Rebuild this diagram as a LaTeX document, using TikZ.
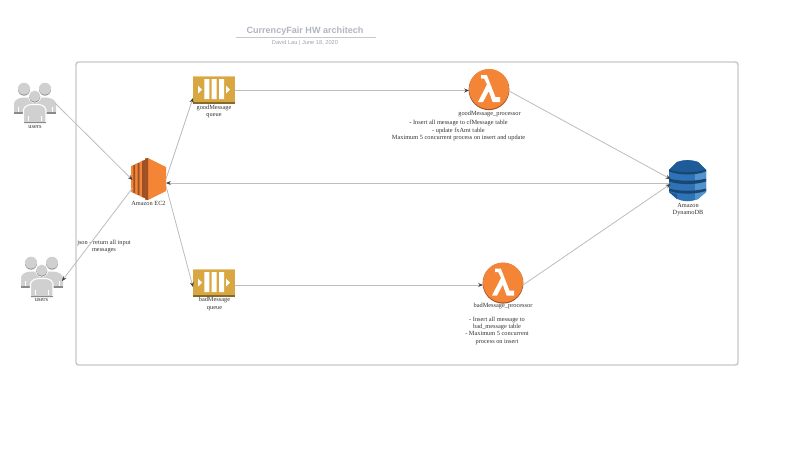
\documentclass[tikz,border=0pt]{standalone}
\usepackage{fontspec}
\setmainfont{Liberation Serif}
\newfontfamily\hdfont{Liberation Sans}
\usetikzlibrary{arrows.meta}
\definecolor{linegray}{HTML}{BDBDBD}
\definecolor{boxgray}{HTML}{C9C9C9}
\definecolor{titlegray}{HTML}{B2B6C0}
\definecolor{ugray}{HTML}{D0D0D0}
\definecolor{ugraydk}{HTML}{8A8A8A}
\definecolor{ecor}{HTML}{F58536}
\definecolor{ecdk}{HTML}{9D5025}
\definecolor{qgold}{HTML}{D9A741}
\definecolor{qdk}{HTML}{876929}
\definecolor{qlt}{HTML}{E8CB8C}
\definecolor{dbm}{HTML}{2E73B8}
\definecolor{dbl}{HTML}{5294CF}
\definecolor{dbk}{HTML}{205B99}
\definecolor{dbd}{HTML}{1A476F}
\definecolor{txt}{HTML}{333333}
\tikzset{
 x=0.75pt,y=-0.75pt,
 conn/.style={draw=linegray,line width=0.6pt,-{Stealth[length=3.6pt,width=3pt,color=black!75]}},
 lbl/.style={font=\fontsize{4.75pt}{5.4pt}\selectfont,text=txt,align=center,inner sep=0pt},
}
\newcommand{\personhead}[3]{%
  \fill[ugraydk] (#1,#2+0.6) circle (#3);
  \fill[ugray] (#1,#2-0.3) circle (#3);}
\newcommand{\usersicon}[2]{%
 \begin{scope}[shift={(#1,#2)}]
  \personhead{24}{89}{6}
  \personhead{45}{89}{6}
  \fill[ugray] (14,112) -- (14,104) .. controls (14,100) and (19,97.5) .. (24,97.5) -- (45,97.5) .. controls (51,97.5) and (56,100) .. (56,104) -- (56,112) -- cycle;
  \fill[ugraydk] (14,112) rectangle (56,113.5);
  \fill[white] (34.7,96.5) circle (6.5);
  \personhead{34.7}{96.5}{5.6}
  \fill[ugray,draw=white,line width=0.8pt] (23.5,124) -- (23.5,110) .. controls (24,106) and (29,104.5) .. (32,104.5) -- (37.5,104.5) .. controls (41,104.5) and (45.5,106) .. (46,110) -- (46,124) -- cycle;
  \fill[ugraydk] (24,121.5) rectangle (45.5,123);
  \draw[white,line width=0.4pt] (28,116) -- (28,121) (41,116) -- (41,121) (18,107) -- (18,112) (52,107) -- (52,112);
 \end{scope}}
\newcommand{\queueicon}[2]{%
 \begin{scope}[shift={(#1,#2)}]
  \fill[qgold] (193,76) rectangle (235,103);
  \fill[qlt] (193,76) rectangle (235,77);
  \fill[qdk] (193,102) rectangle (235,104);
  \fill[white] (204.3,79) rectangle (209.3,99) (211.7,79) rectangle (216.7,99) (219,79) rectangle (224,99);
  \fill[white] (198,85.5) -- (202,89.5) -- (198,93.5) -- cycle;
  \fill[white] (226,85.5) -- (230,89.5) -- (226,93.5) -- cycle;
 \end{scope}}
\newcommand{\lambdaicon}[2]{%
 \begin{scope}[shift={(#1,#2)}]
  \fill[ecdk] (0,0.7) circle (20.4);
  \fill[ecor] (0,0) circle (20);
  \fill[white] (-11,13) -- (-2,-4.5) -- (-4.7,-10.3) -- (-8,-10.3) -- (-8,-14) -- (-2.2,-14) -- (6.5,8.2) -- (11,8.2) -- (11,13) -- (3.6,13) -- (-0.2,2.2) -- (-6,13) -- cycle;
 \end{scope}}
\begin{document}
\begin{tikzpicture}
\useasboundingbox (0,0) rectangle (800,469);
\fill[white] (0,0) rectangle (800,469);
\draw[boxgray,line width=1.1pt,rounded corners=2pt] (76,62) rectangle (738,365);
\node[font=\hdfont\bfseries\fontsize{6.8pt}{8pt}\selectfont,text=titlegray,inner sep=0pt] (title) at (305,31) {CurrencyFair HW architech};
\coordinate (ruleL) at (236,37.5);
\coordinate (ruleR) at (376,37.5);
\draw[boxgray,line width=0.6pt] (ruleL) -- (ruleR);
\node[font=\hdfont\fontsize{4.25pt}{6pt}\selectfont,text=titlegray!90!black,inner sep=0pt] (subtitle) at (305,43.5) {David Lau | June 18, 2020};
\usersicon{0}{0}
\usersicon{7}{174}
\queueicon{0}{0}
\queueicon{0}{193}
\lambdaicon{489}{89}
\lambdaicon{503}{282.5}
% EC2
\fill[ecor] (148,158) -- (166,167) -- (166,191) -- (148,200) -- cycle;
\fill[ecdk] (145,158.5) -- (148,158) -- (148,200) -- (145,199.5) -- cycle;
\fill[ecor] (139.5,162) -- (145,160) -- (145,198) -- (139.5,196) -- cycle;
\fill[ecdk] (142,161) -- (145,160) -- (145,198) -- (142,197) -- cycle;
\fill[ecor] (135,164) -- (139.5,162.5) -- (139.5,195.5) -- (135,194) -- cycle;
\fill[ecdk] (137.5,163.2) -- (139.5,162.5) -- (139.5,195.5) -- (137.5,194.8) -- cycle;
\fill[ecor] (131,166) -- (135,164.6) -- (135,193.4) -- (131,192) -- cycle;
\fill[ecdk] (133.3,165.2) -- (135,164.6) -- (135,193.4) -- (133.3,192.8) -- cycle;
% DynamoDB
\fill[dbm] (669,170) -- (677,162) .. controls (684,159.5) and (691,159.5) .. (698,162) -- (706,170) -- (706,192) -- (698,199) .. controls (691,202) and (684,202) .. (677,199) -- (669,192) -- cycle;
\fill[dbl] (695,161.2) -- (698,162) -- (706,170) -- (706,192) -- (698,199) -- (695,200) -- cycle;
\fill[dbk] (669,170) -- (677,162) -- (677,172) -- (669,170) -- cycle;
\fill[dbk] (669,192) -- (677,194) -- (677,199) -- cycle;
\fill[dbk] (677,162) .. controls (684,159.5) and (691,159.5) .. (698,162) -- (706,170) .. controls (695,173) and (680,173) .. (669,170) -- cycle;
\fill[dbd] (669,169.5) .. controls (680,173) and (695,173) .. (706,169.5) -- (706,171.5) .. controls (695,175.5) and (680,175.5) .. (669,171.5) -- cycle;
\fill[dbd] (669,178.5) .. controls (680,181.5) and (695,181.5) .. (706,178.5) -- (706,181.5) .. controls (695,185) and (680,185) .. (669,181.5) -- cycle;
\fill[dbd] (669,188.5) .. controls (680,191.5) and (695,191.5) .. (706,188.5) -- (706,191) .. controls (695,194.5) and (680,194.5) .. (669,191) -- cycle;
\node[lbl] (u1lab) at (35,127.5) {users};
\node[lbl] (u2lab) at (41.5,300) {users};
\node[lbl] (ec2lab) at (148.5,203.5) {Amazon EC2};
\node[lbl] (gqlab) at (214,111.5) {goodMessage\\queue};
\node[lbl] (bqlab) at (214.5,304) {badMessage\\queue};
\node[lbl] (l1lab) at (489.5,113.5) {goodMessage\_processor};
\node[lbl] (l2lab) at (503,306) {badMessage\_processor};
\node[lbl] (l1note) at (458.5,130.5) {- Insert all message to cfMessage table\\[0.5pt]- update fxAmt table\\[0.5pt]Maximum 5 concurrent process on insert and update};
\node[lbl] (l2note) at (497,331) {- Insert all message to\\bad\_message table\\- Maximum 5 concurrent\\[0.4pt]process on insert};
\node[lbl] (dblab) at (688,209.5) {Amazon\\DynamoDB};
\node[lbl] (jsonlab) at (104,246.5) {json - return all input\\messages};
\coordinate (u1) at (55,103);
\coordinate (u2) at (62,281);
\coordinate (ec2a) at (132.5,180);
\coordinate (ec2b) at (132.5,188);
\coordinate (ec2c) at (166,179);
\coordinate (ec2d) at (166,183);
\coordinate (ec2e) at (166,186);
\coordinate (gq) at (193,98);
\coordinate (gqr) at (235,90.5);
\coordinate (bq) at (193,287);
\coordinate (bqr) at (235,285);
\coordinate (l1) at (469,90.5);
\coordinate (l1r) at (509,91);
\coordinate (l2) at (483,285);
\coordinate (l2r) at (523,285);
\coordinate (d1) at (670.5,179);
\coordinate (d2) at (669,183);
\coordinate (d3) at (670.5,184);
\draw[conn] (u1) -- (ec2a);
\draw[conn] (ec2b) -- (u2);
\draw[conn] (ec2c) -- (gq);
\draw[conn] (ec2e) -- (bq);
\draw[conn] (gqr) -- (l1);
\draw[conn] (bqr) -- (l2);
\draw[conn] (l1r) -- (d1);
\draw[conn] (l2r) -- (d3);
\draw[conn] (d2) -- (ec2d);
\end{tikzpicture}
\end{document}
